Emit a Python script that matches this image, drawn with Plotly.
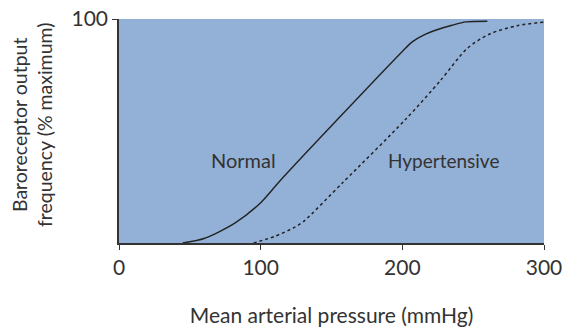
import plotly.graph_objects as go

normal_x = [45, 60, 82, 100, 114, 154, 200, 207, 215, 225, 235, 245, 260]
normal_y = [0, 2, 9, 18, 28, 55, 85.5, 89.8, 92.8, 95.3, 97.2, 98.7, 99]
hyper_x = [95, 110, 123, 130, 158, 202, 227, 246, 262, 281, 300]
hyper_y = [0, 3, 6.7, 9.5, 27, 55, 72.6, 87, 93.4, 97, 98.6]
x_ticks = [0, 100, 200, 300]
y_ticks = [100]

FONT = "Lato"
TXT = "#333333"

fig = go.Figure()
fig.add_trace(go.Scatter(x=normal_x, y=normal_y, mode="lines",
                         line=dict(color="#222222", width=1.4, shape="spline", smoothing=0.8),
                         showlegend=False, hoverinfo="skip"))
fig.add_trace(go.Scatter(x=hyper_x, y=hyper_y, mode="lines",
                         line=dict(color="#222222", width=1.5, dash="dot", shape="spline", smoothing=0.8),
                         showlegend=False, hoverinfo="skip"))

fig.add_annotation(x=88, y=37, text="Normal", showarrow=False,
                   font=dict(family=FONT, size=20, color=TXT))
fig.add_annotation(x=229.4, y=37, text="Hypertensive", showarrow=False,
                   font=dict(family=FONT, size=19, color=TXT))
fig.add_annotation(xref="paper", yref="paper", x=(32 - 119) / 425, y=(243 - 125) / 224,
                   text="Baroreceptor output<br>frequency (% maximum)",
                   textangle=-90, showarrow=False, xanchor="center", yanchor="middle",
                   font=dict(family=FONT, size=19.5, color=TXT))

fig.update_layout(
    width=566, height=329,
    margin=dict(l=119, r=22, t=19, b=86),
    paper_bgcolor="white", plot_bgcolor="#93B0D6",
    font=dict(family=FONT, color=TXT),
    xaxis=dict(range=[0, 300], tickvals=x_ticks, ticks="outside", ticklen=5,
               tickcolor="#333333", showline=True, linecolor="#333333", linewidth=1.5,
               showgrid=False, zeroline=False, tickfont=dict(size=21), automargin=False,
               title=dict(text="Mean arterial pressure (mmHg)", font=dict(size=21), standoff=30)),
    yaxis=dict(range=[0, 100], tickvals=y_ticks, ticks="outside", ticklen=5,
               tickcolor="#333333", showline=True, linecolor="#333333", linewidth=1.5,
               showgrid=False, zeroline=False, tickfont=dict(size=21), automargin=False),
)
fig.write_html("out.html", config={"displayModeBar": False},
               post_script="document.body.style.margin='0px';document.body.style.padding='0px';")
